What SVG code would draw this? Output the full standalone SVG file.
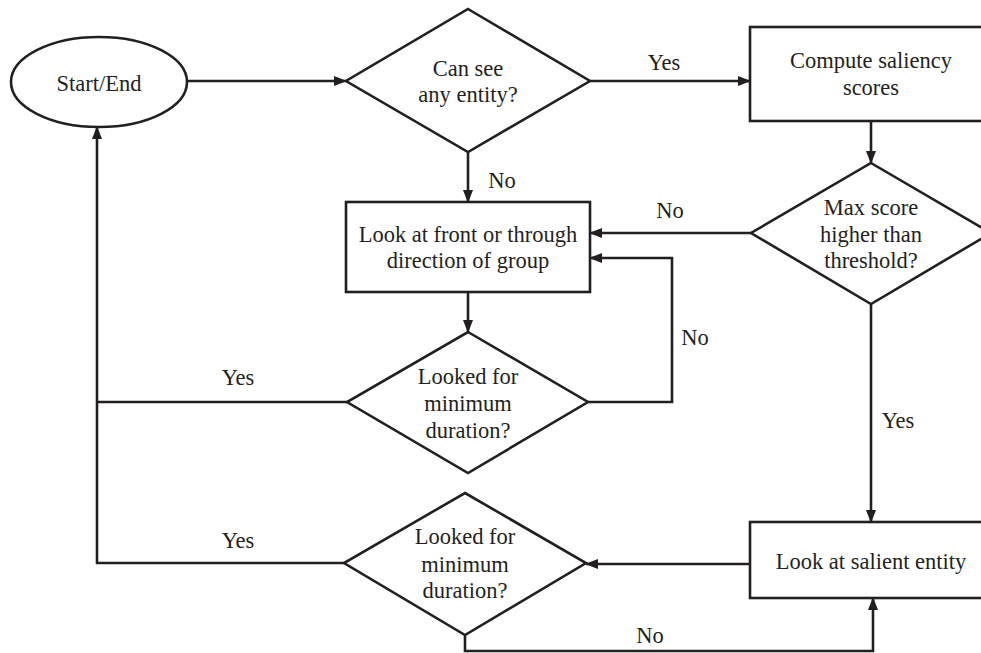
<svg xmlns="http://www.w3.org/2000/svg" width="981" height="653" viewBox="0 0 981 653">
<style>
.shape{fill:#ffffff;stroke:#231f20;stroke-width:2.6}
.conn{fill:none;stroke:#231f20;stroke-width:2.6}
text{font-family:'Liberation Serif','Times New Roman',serif;font-size:22.5px;fill:#231f20}
.c{text-anchor:middle}
</style>
<defs>
<marker id="arr" markerUnits="userSpaceOnUse" markerWidth="14" markerHeight="12" refX="12" refY="5" orient="auto">
<path d="M0,0 L13,5 L0,10 z" fill="#231f20"/>
</marker>
</defs>
<rect width="981" height="653" fill="#ffffff"/>
<g id="connectors" font-family="Liberation Serif, serif">
<path class="conn" d="M187,81 L346,81" marker-end="url(#arr)"/>
<path class="conn" d="M590,81 L750,81" marker-end="url(#arr)"/>
<path class="conn" d="M468,152 L468,202" marker-end="url(#arr)"/>
<path class="conn" d="M871,121 L871,163" marker-end="url(#arr)"/>
<path class="conn" d="M751,233 L590,233" marker-end="url(#arr)"/>
<path class="conn" d="M871,304 L871,522" marker-end="url(#arr)"/>
<path class="conn" d="M468,292 L468,332" marker-end="url(#arr)"/>
<path class="conn" d="M588,402 L672,402 L672,258 L590,258" marker-end="url(#arr)"/>
<path class="conn" d="M347,402 L97,402"/>
<path class="conn" d="M344,563 L97,563 L97,127" marker-end="url(#arr)"/>
<path class="conn" d="M750,564 L586,564" marker-end="url(#arr)"/>
<path class="conn" d="M465,635 L465,651 L873,651 L873,598" marker-end="url(#arr)"/>
<text class="c" x="664" y="70">Yes</text>
<text class="c" x="502" y="188">No</text>
<text class="c" x="670" y="218">No</text>
<text class="c" x="695" y="345">No</text>
<text class="c" x="238" y="385">Yes</text>
<text class="c" x="238" y="548">Yes</text>
<text class="c" x="898" y="428">Yes</text>
<text class="c" x="650" y="643">No</text>
</g>
<g id="start-end">
<ellipse class="shape" cx="99" cy="82" rx="88" ry="45"/>
<text class="c" x="99" y="91">Start/End</text>
</g>
<g id="can-see">
<polygon class="shape" points="468,9 590,81 468,152 346,81"/>
<text class="c" x="468" y="76">Can see</text>
<text class="c" x="468" y="102">any entity?</text>
</g>
<g id="compute">
<rect class="shape" x="750" y="27" width="243" height="94"/>
<text class="c" x="871" y="68">Compute saliency</text>
<text class="c" x="871" y="95">scores</text>
</g>
<g id="max-score">
<polygon class="shape" points="871,163 991,233 871,304 751,233"/>
<text class="c" x="871" y="215">Max score</text>
<text class="c" x="871" y="242">higher than</text>
<text class="c" x="871" y="268">threshold?</text>
</g>
<g id="look-front">
<rect class="shape" x="346" y="202" width="244" height="90"/>
<text class="c" x="468" y="242">Look at front or through</text>
<text class="c" x="468" y="268">direction of group</text>
</g>
<g id="looked-1">
<polygon class="shape" points="468,332 588,402 468,473 347,402"/>
<text class="c" x="468" y="384">Looked for</text>
<text class="c" x="468" y="411">minimum</text>
<text class="c" x="468" y="438">duration?</text>
</g>
<g id="looked-2">
<polygon class="shape" points="465,493 586,563 465,635 344,563"/>
<text class="c" x="465" y="544">Looked for</text>
<text class="c" x="465" y="572">minimum</text>
<text class="c" x="465" y="598">duration?</text>
</g>
<g id="salient">
<rect class="shape" x="750" y="522" width="243" height="76"/>
<text class="c" x="871" y="569">Look at salient entity</text>
</g>
</svg>
